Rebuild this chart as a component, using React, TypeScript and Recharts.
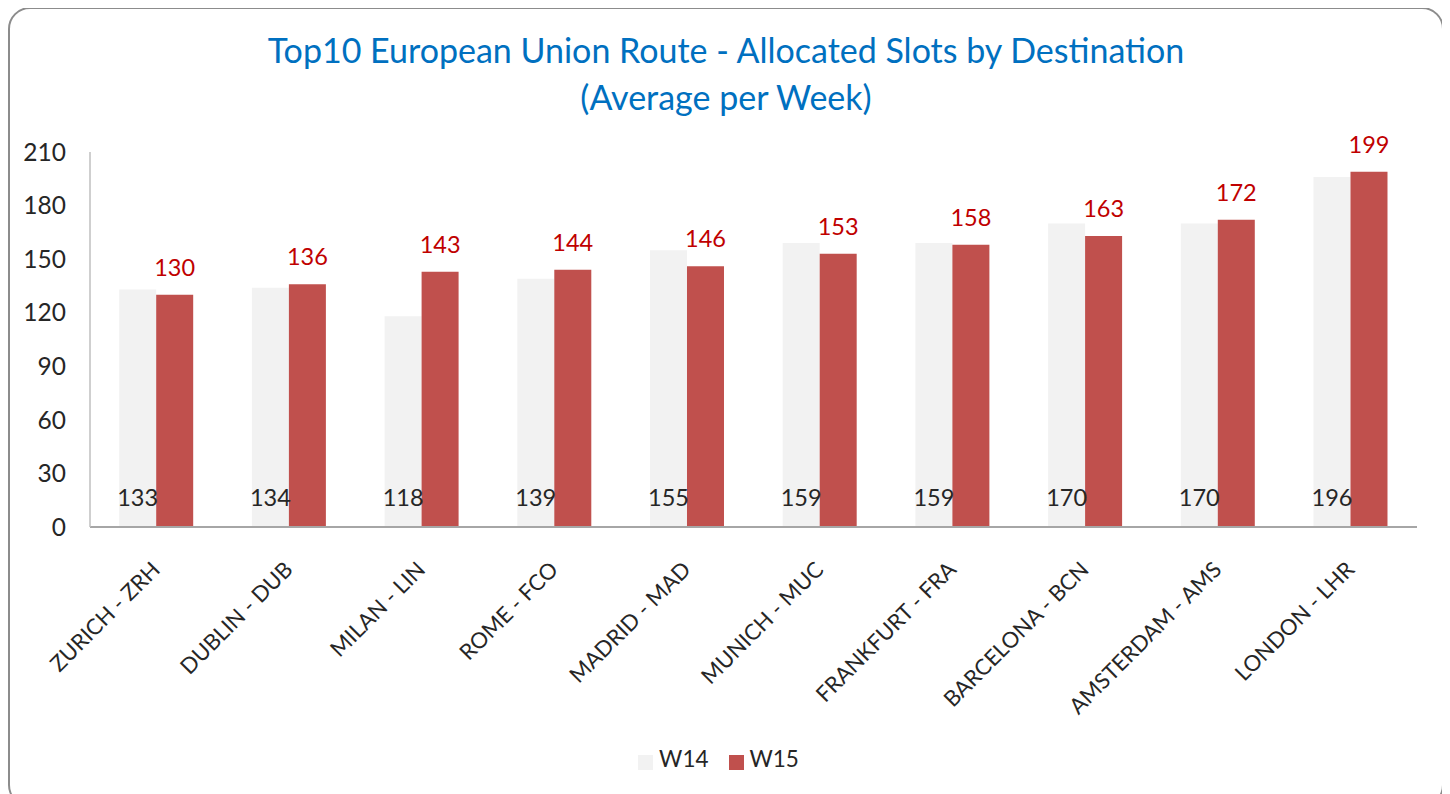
import React from 'react';
import { BarChart, Bar, XAxis, YAxis, Legend, LabelList } from 'recharts';

const destinations = [
  'ZURICH - ZRH',
  'DUBLIN - DUB',
  'MILAN - LIN',
  'ROME - FCO',
  'MADRID - MAD',
  'MUNICH - MUC',
  'FRANKFURT - FRA',
  'BARCELONA - BCN',
  'AMSTERDAM - AMS',
  'LONDON - LHR',
];
const w14 = [133, 134, 118, 139, 155, 159, 159, 170, 170, 196];
const w15 = [130, 136, 143, 144, 146, 153, 158, 163, 172, 199];
const yTicks = [0, 30, 60, 90, 120, 150, 180, 210];

const data = destinations.map((name, i) => ({ name, W14: w14[i], W15: w15[i] }));

const FONT = 'Lato, "Open Sans", sans-serif';

// rotated category labels, ending at the tick
const AngledTick = (props: any) => {
  const { x, y, payload } = props;
  return (
    <g transform={`translate(${x + 5},${y + 36})`}>
      <text
        transform="rotate(-45)"
        textAnchor="end"
        fontSize={22}
        fill="#262626"
        fontFamily={FONT}
      >
        {payload.value}
      </text>
    </g>
  );
};

export default function App() {
  return (
    <div
      style={{
        position: 'relative',
        width: 1436,
        height: 800,
        border: '2px solid #8c8c8c',
        borderRadius: 22,
        boxSizing: 'border-box',
        background: '#fff',
        fontFamily: FONT,
        marginTop: -1,
      }}
    >
      {/* Title */}
      <div
        style={{
          position: 'absolute',
          top: 17,
          left: 0,
          width: '100%',
          textAlign: 'center',
          color: '#0070c0',
          fontSize: 34,
          lineHeight: '47px',
        }}
      >
        Top10 European Union Route - Allocated Slots by Destination
        <br />
        (Average per Week)
      </div>

      <div style={{ position: 'absolute', top: -1, left: -2 }}>
        <BarChart
          width={1436}
          height={786}
          data={data}
          margin={{ top: 144, right: 27, bottom: 22, left: 22 }}
          barCategoryGap="22%"
          barGap={0}
        >
          <XAxis
            dataKey="name"
            interval={0}
            height={218}
            tick={<AngledTick />}
            tickLine={false}
            axisLine={{ stroke: '#a6a6a6', strokeWidth: 2 }}
          />
          <YAxis
            domain={[0, 210]}
            ticks={yTicks}
            width={60}
            tickLine={false}
            tickSize={0}
            tickMargin={24}
            axisLine={{ stroke: '#bfbfbf', strokeWidth: 1.5 }}
            tick={{ fontSize: 24.5, fill: '#262626', fontFamily: FONT }}
          />
          <Legend
            verticalAlign="bottom"
            align="center"
            iconType="square"
            iconSize={15}
            formatter={(value: string) => (
              <span
                style={{
                  color: '#262626',
                  fontSize: 22.5,
                  fontFamily: FONT,
                  marginLeft: 2,
                  marginRight: value === 'W14' ? 10 : 0,
                }}
              >
                {value}
              </span>
            )}
          />
          <Bar dataKey="W14" fill="#f2f2f2" isAnimationActive={false}>
            <LabelList
              dataKey="W14"
              position="insideBottom"
              offset={21}
              fill="#262626"
              fontSize={23.5}
              fontFamily={FONT}
            />
          </Bar>
          <Bar dataKey="W15" fill="#c0504d" isAnimationActive={false}>
            <LabelList
              dataKey="W15"
              position="top"
              offset={19}
              fill="#c00000"
              fontSize={23.5}
              fontFamily={FONT}
            />
          </Bar>
        </BarChart>
      </div>
    </div>
  );
}
